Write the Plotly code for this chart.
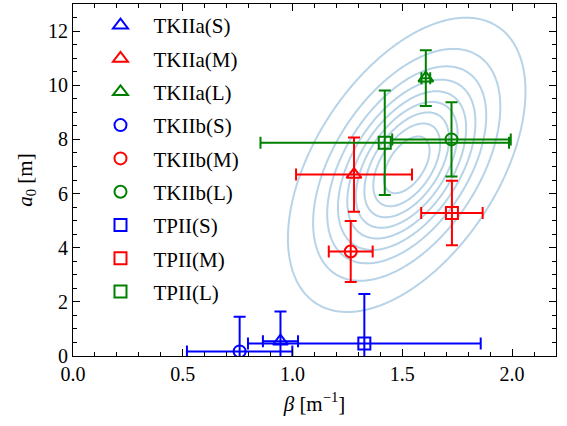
import numpy as np
import plotly.graph_objects as go

# ---- data ----
names = ["TKIIa(S)", "TKIIa(M)", "TKIIa(L)",
         "TKIIb(S)", "TKIIb(M)", "TKIIb(L)",
         "TPII(S)", "TPII(M)", "TPII(L)"]
beta = [0.945, 1.280, 1.607, 0.759, 1.265, 1.724, 1.327, 1.726, 1.420]
beta_err = [0.08, 0.264, 0.02, 0.24, 0.10, 0.27, 0.53, 0.14, 0.566]
a0 = [0.545, 6.70, 10.26, 0.17, 3.86, 8.00, 0.46, 5.28, 7.88]
a0_err = [1.10, 1.37, 1.03, 1.28, 1.13, 1.37, 1.83, 1.19, 1.93]
colors = ["blue", "red", "green"] * 3
symbols = ["triangle-up-open"] * 3 + ["circle-open"] * 3 + ["square-open"] * 3
marker_sizes = [13] * 3 + [12] * 3 + [12] * 3

# posterior density (summarised as a bivariate normal)
post_mean = (1.52, 7.06)
post_sd = (0.221, 2.22)
post_rho = 0.5
kde_levels = list(np.linspace(0.05, 1.0, 10)[:-1])

x_ticks = [0.0, 0.5, 1.0, 1.5, 2.0]
y_ticks = [0, 2, 4, 6, 8, 10, 12]

# ---- density grid ----
gx = np.linspace(0.6, 2.5, 300)
gy = np.linspace(-2.0, 16.0, 300)
X, Y = np.meshgrid(gx, gy)
u = (X - post_mean[0]) / post_sd[0]
v = (Y - post_mean[1]) / post_sd[1]
q = (u**2 - 2 * post_rho * u * v + v**2) / (1 - post_rho**2)
Z = np.exp(-0.5 * q)

FONT = "Liberation Serif"
fig = go.Figure()
fig.add_trace(go.Contour(
    x=gx, y=gy, z=Z, showscale=False, showlegend=False, hoverinfo="skip",
    contours=dict(coloring="none", start=kde_levels[0], end=kde_levels[-1] + 1e-6,
                  size=kde_levels[1] - kde_levels[0]),
    line=dict(color="rgba(31,119,180,0.32)", width=2, smoothing=1.0),
))

for i, n in enumerate(names):
    fig.add_trace(go.Scatter(
        x=[beta[i]], y=[a0[i]], mode="markers", name=n, legendgroup=n,
        marker=dict(symbol=symbols[i], size=marker_sizes[i], color=colors[i],
                    line=dict(width=2, color=colors[i])),
        error_x=dict(type="data", array=[beta_err[i]], color=colors[i],
                     thickness=2, width=6),
        error_y=dict(type="data", array=[a0_err[i]], color=colors[i],
                     thickness=2, width=6),
    ))

axis_common = dict(
    showline=True, linecolor="black", linewidth=1.2, mirror="allticks",
    ticks="inside", ticklen=7, tickwidth=1.2, tickcolor="black",
    showgrid=False, zeroline=False,
    tickfont=dict(family=FONT, size=20, color="black"),
)
fig.update_xaxes(range=[0, 2.2], tickvals=x_ticks, tickformat=".1f",
                 minor=dict(dtick=0.1, ticklen=4, tickwidth=1, tickcolor="black", ticks="inside"),
                 title=dict(text="<i>β</i> [m<sup>−1</sup>]",
                            font=dict(family=FONT, size=21, color="black"), standoff=12),
                 **axis_common)
fig.update_yaxes(range=[0, 13], tickvals=y_ticks,
                 minor=dict(dtick=0.5, ticklen=4, tickwidth=1, tickcolor="black", ticks="inside"),
                 title=dict(text="<i>a</i><sub>0</sub> [m]",
                            font=dict(family=FONT, size=21, color="black"), standoff=9),
                 **axis_common)

fig.update_layout(
    width=567, height=426, margin=dict(l=73, r=11, t=4, b=70),
    plot_bgcolor="white", paper_bgcolor="white",
    font=dict(family=FONT, size=20, color="black"),
    legend=dict(x=0.03, y=0.997, xanchor="left", yanchor="top",
                bgcolor="rgba(0,0,0,0)", font=dict(family=FONT, size=21),
                tracegroupgap=3, itemwidth=56),
)

fig.write_html("out.html")
